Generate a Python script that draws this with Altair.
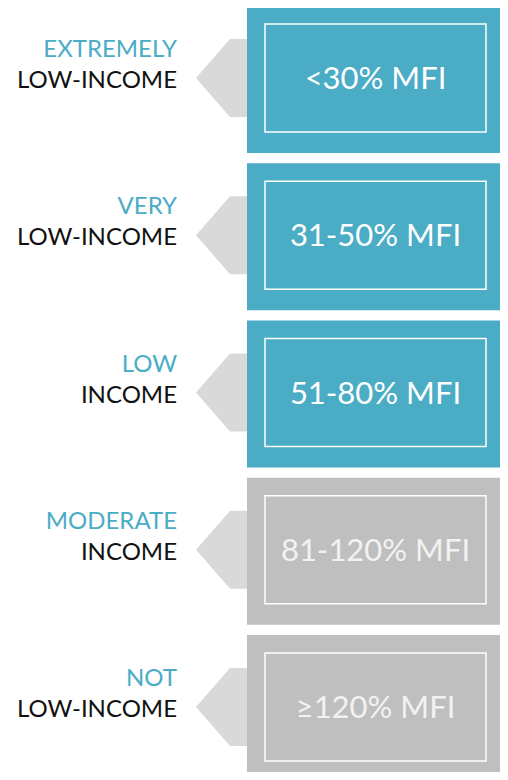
import altair as alt
import pandas as pd

# ---- data ----
top_words = ["EXTREMELY", "VERY", "LOW", "MODERATE", "NOT"]
bottom_words = ["LOW-INCOME", "LOW-INCOME", "INCOME", "INCOME", "LOW-INCOME"]
ranges = ["<30% MFI", "31-50% MFI", "51-80% MFI", "81-120% MFI", "\u2265120% MFI"]
groups = ["low", "low", "low", "other", "other"]

# ---- style ----
TEAL = "#4BACC6"
GRAY = "#BFBFBF"
ARROW = "#D9D9D9"
FONT = "Lato"

# ---- layout (pixel units of the page) ----
ROW_TOP0, PITCH = 6, 157.25
BOX_X0, BOX_X1, BOX_H = 247, 520, 147
IN_X0, IN_X1, IN_T, IN_B = 265, 486, 18, 126
AR_TIP_X, AR_CORNER_X = 196, 230
AR_T, AR_M, AR_B = 33, 72, 111
LAB_X, LAB1, LAB2 = 177, 51, 82
TXT_X, TXT_B = 375.5, 83

rows = []
for i in range(len(ranges)):
    top = ROW_TOP0 + PITCH * i
    rows.append(dict(i=i, top=top, bot=top + BOX_H, itop=top + IN_T, ibot=top + IN_B,
                     x0=BOX_X0, x1=BOX_X1, ix0=IN_X0, ix1=IN_X1,
                     l1=top + LAB1, l2=top + LAB2, lx=LAB_X, tx=TXT_X, ty=top + TXT_B,
                     w1=top_words[i], w2=bottom_words[i], rng=ranges[i], grp=groups[i],
                     tcol="#FFFFFF" if groups[i] == "low" else "#F2F2F2"))
df = pd.DataFrame(rows)

arrows = []
for i in range(len(ranges)):
    top = ROW_TOP0 + PITCH * i
    for ax, a_top, a_bot in [(AR_TIP_X, AR_M, AR_M), (AR_CORNER_X, AR_T, AR_B), (BOX_X0 + 2, AR_T, AR_B)]:
        arrows.append(dict(row=i, ax=ax, ay=top + a_top, ay2=top + a_bot))
adf = pd.DataFrame(arrows)

# page coordinates: plot area starts at the 8px page margin
xs = alt.Scale(domain=[8, 500], nice=False, zero=False)
ys = alt.Scale(domain=[8, 772], reverse=True, nice=False, zero=False)
color = alt.Color("grp:N", scale=alt.Scale(domain=["low", "other"], range=[TEAL, GRAY]), legend=None)

base = alt.Chart(df)

arrow = alt.Chart(adf).mark_area(color=ARROW, clip=True, interpolate="linear").encode(
    x=alt.X("ax:Q", scale=xs, axis=None),
    y=alt.Y("ay:Q", scale=ys, axis=None),
    y2="ay2:Q",
    detail="row:N",
)

box = base.mark_rect(clip=True).encode(
    x=alt.X("x0:Q", scale=xs, axis=None), x2="x1:Q",
    y=alt.Y("top:Q", scale=ys, axis=None), y2="bot:Q",
    color=color,
)

inner = base.mark_rect(filled=False, stroke="white", strokeWidth=1.5, clip=True).encode(
    x=alt.X("ix0:Q", scale=xs, axis=None), x2="ix1:Q",
    y=alt.Y("itop:Q", scale=ys, axis=None), y2="ibot:Q",
)

rng_text = base.mark_text(font=FONT, fontSize=31, align="center", baseline="alphabetic").encode(
    x=alt.X("tx:Q", scale=xs, axis=None),
    y=alt.Y("ty:Q", scale=ys, axis=None),
    text="rng:N",
    color=alt.Color("tcol:N", scale=None),
)

lab1 = base.mark_text(font=FONT, fontSize=24, align="right", baseline="alphabetic", color=TEAL).encode(
    x=alt.X("lx:Q", scale=xs, axis=None),
    y=alt.Y("l1:Q", scale=ys, axis=None),
    text="w1:N",
)

lab2 = base.mark_text(font=FONT, fontSize=24, align="right", baseline="alphabetic", color="#111111").encode(
    x=alt.X("lx:Q", scale=xs, axis=None),
    y=alt.Y("l2:Q", scale=ys, axis=None),
    text="w2:N",
)

chart = alt.layer(arrow, box, inner, rng_text, lab1, lab2).properties(
    width=492, height=764, padding=0, autosize=alt.AutoSizeParams(type="none"),
    background="white",
).configure_view(stroke=None)

chart.save("out.html", embed_options={"renderer": "svg", "actions": False})
